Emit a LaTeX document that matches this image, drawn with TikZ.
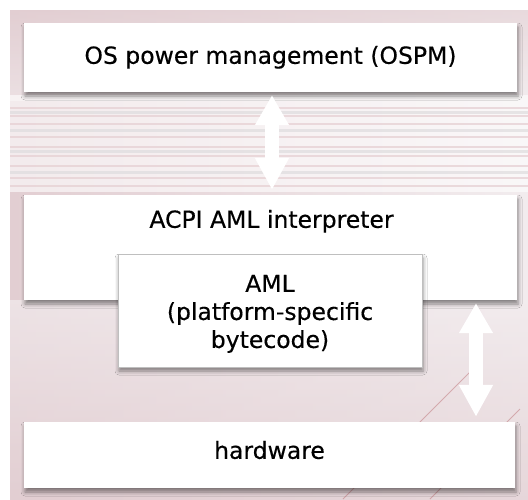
\documentclass[tikz,border=0pt]{standalone}
\usepackage{fontspec}
\setmainfont[FakeBold=0.35]{DejaVu Sans}
\usetikzlibrary{arrows.meta,shadows.blur}
\definecolor{bgpink}{RGB}{226,206,210}
\definecolor{bglight}{RGB}{242,236,238}
\definecolor{stripe}{RGB}{230,208,211}
\definecolor{stripegrey}{RGB}{222,220,222}
\definecolor{streak}{RGB}{185,105,110}
\begin{document}
\begin{tikzpicture}[x=1pt,y=-1pt,
  box/.style={fill=white, inner sep=0pt,
    blur shadow={shadow xshift=1pt, shadow yshift=-4pt, shadow blur radius=4pt, shadow opacity=45}},
  lbl/.style={inner sep=0pt, font=\fontsize{23.5}{28}\selectfont, text=black, align=center},
  biarrow/.style={draw=white, line width=14pt,
    {Triangle[width=32pt,length=30pt]}-{Triangle[width=32pt,length=32pt]}},
  stripeline/.style={draw=stripe, line width=2pt, opacity=0.75},
  greyline/.style={draw=stripegrey, line width=3pt, opacity=0.7},
  streakline/.style={draw=streak, line width=0.8pt, opacity=0.45}]
\useasboundingbox (0,0) rectangle (528,499);
\fill[white] (0,0) rectangle (528,499);
% background
\shade[left color=bgpink, right color=bglight] (10,10) rectangle (528,499);
\shade[top color=bgpink, bottom color=bglight, opacity=0.6] (10,10) rectangle (528,100);
\fill[white, opacity=0.6] (10,95) rectangle (528,192);
\foreach \yy in {112, 130, 151, 172}
  \draw[greyline] (10,\yy) -- (528,\yy);
\foreach \yy/\ww in {108/1.2, 116/1.5, 124/1.2, 137/2, 147/1.2, 156/2, 166/1.2, 178/1.5, 186/1.2}
  \draw[stripeline, line width=\ww pt] (10,\yy) -- (528,\yy);
\shade[top color=bglight, bottom color=bgpink, opacity=0.7] (10,300) rectangle (528,499);
\draw[streakline] (343,499) -- (472,370);
\draw[streakline] (430,499) -- (520,409);
% boxes
\node[box, minimum width=493pt, minimum height=69pt] (ospm) at (270.5,57.5) {};
\node[box, minimum width=493pt, minimum height=105pt] (acpi) at (270.5,247.5) {};
\node[box, draw=black!25, line width=0.8pt, minimum width=304pt, minimum height=113pt] (aml) at (270,310.5) {};
\node[box, minimum width=491pt, minimum height=66pt] (hw) at (269.5,455) {};
% labels
\node[lbl, anchor=base] (ospmt) at ([yshift=-41pt]ospm.north) {OS power management (OSPM)};
\node[lbl, anchor=base] (acpit) at ([yshift=-33pt,xshift=1pt]acpi.north) {ACPI AML interpreter};
\node[lbl, anchor=north] (amlt) at ([yshift=-21pt]aml.north) {AML\\(platform-specific\\bytecode)};
\node[lbl, anchor=base] (hwt) at ([yshift=-37pt]hw.north) {hardware};
% arrows
\coordinate (ax1) at (272,0);
\coordinate (ax2) at (476,0);
\draw[biarrow, shorten <=3pt, shorten >=5pt] (ospm.south -| ax1) -- (acpi.north -| ax1);
\draw[biarrow, shorten <=3pt, shorten >=5pt] (acpi.south -| ax2) -- (hw.north -| ax2);
\end{tikzpicture}
\end{document}
